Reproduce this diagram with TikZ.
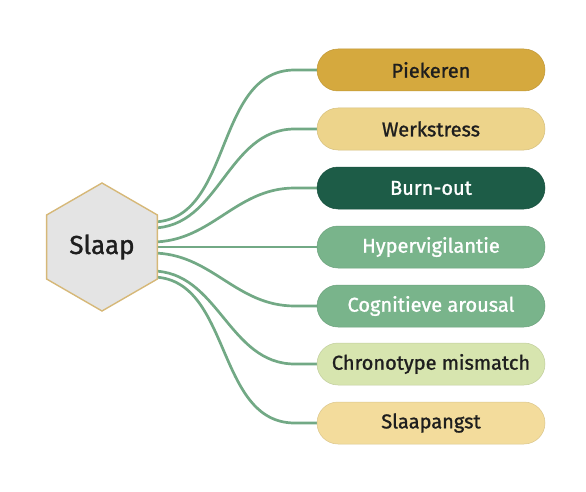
\documentclass[tikz,border=0pt]{standalone}
\usepackage{fontspec}
\setmainfont{Fira Sans}[FakeBold=1.2]
\usetikzlibrary{shapes.geometric,backgrounds}
\definecolor{linegreen}{HTML}{72A985}
\definecolor{hexfill}{HTML}{E4E4E4}
\definecolor{hexborder}{HTML}{D6B878}
\definecolor{cA}{HTML}{D5A93E}
\definecolor{cB}{HTML}{EDD48B}
\definecolor{cC}{HTML}{1D5C47}
\definecolor{cD}{HTML}{79B48B}
\definecolor{cE}{HTML}{79B48B}
\definecolor{cF}{HTML}{D7E5AF}
\definecolor{cG}{HTML}{F3DC9C}
\definecolor{darktext}{HTML}{1E1E1E}
\begin{document}
\begin{tikzpicture}[x=1pt,y=-1pt,
  item/.style={rectangle, rounded corners=21pt, minimum width=228pt, minimum height=42pt,
    inner sep=0pt, font=\fontsize{20}{23}\selectfont, draw=#1!90!black, line width=0.5pt, fill=#1},
  conn/.style={draw=linegreen, line width=2.7pt, line cap=round}]
\useasboundingbox (0,0) rectangle (586,492);
\node[regular polygon, regular polygon sides=6, shape border rotate=30, minimum size=128pt,
  inner sep=0pt, fill=hexfill, draw=hexborder, line width=1.4pt,
  font=\fontsize{26}{29}\selectfont, text=darktext] (hex) at (102,247) {Slaap};
\node[item=cA, text=darktext] (n1) at (431,70) {Piekeren};
\node[item=cB, text=darktext] (n2) at (431,129) {Werkstress};
\node[item=cC, text=white] (n3) at (431,188) {Burn-out};
\node[item=cD, text=white] (n4) at (431,247) {Hypervigilantie};
\node[item=cE, text=white] (n5) at (431,306) {Cognitieve arousal};
\node[item=cF, text=darktext] (n6) at (431,364) {Chronotype mismatch};
\node[item=cG, text=darktext] (n7) at (431,423) {Slaapangst};
\coordinate (s1) at (152,222);
\coordinate (s2) at (152,228);
\coordinate (s3) at (152,242);
\coordinate (s4) at (152,247);
\coordinate (s5) at (152,253);
\coordinate (s6) at (152,271);
\coordinate (s7) at (152,277);
\begin{scope}[on background layer]
\foreach \i in {1,...,7}{
  \draw[conn] (s\i) to[out=0,in=180] ([xshift=-22pt]n\i.west) -- (n\i.west);
}
\end{scope}
\end{tikzpicture}
\end{document}
